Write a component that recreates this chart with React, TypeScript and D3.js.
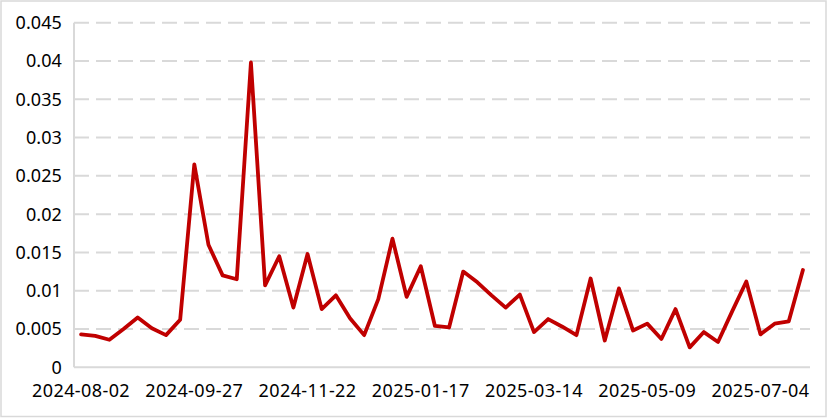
import React from "react";
import * as d3 from "d3";

const dates: string[] = [
  "2024-08-02","2024-08-09","2024-08-16","2024-08-23","2024-08-30","2024-09-06","2024-09-13","2024-09-20",
  "2024-09-27","2024-10-04","2024-10-11","2024-10-18","2024-10-25","2024-11-01","2024-11-08","2024-11-15",
  "2024-11-22","2024-11-29","2024-12-06","2024-12-13","2024-12-20","2024-12-27","2025-01-03","2025-01-10",
  "2025-01-17","2025-01-24","2025-01-31","2025-02-07","2025-02-14","2025-02-21","2025-02-28","2025-03-07",
  "2025-03-14","2025-03-21","2025-03-28","2025-04-04","2025-04-11","2025-04-18","2025-04-25","2025-05-02",
  "2025-05-09","2025-05-16","2025-05-23","2025-05-30","2025-06-06","2025-06-13","2025-06-20","2025-06-27",
  "2025-07-04","2025-07-11","2025-07-18","2025-07-25",
];

const values: number[] = [
  0.0043, 0.0041, 0.0036, 0.005, 0.0065, 0.0051, 0.0042, 0.0062, 0.0265, 0.016,
  0.012, 0.0115, 0.0398, 0.0107, 0.0145, 0.0078, 0.0148, 0.0076, 0.0094, 0.0064,
  0.0042, 0.0089, 0.0168, 0.0092, 0.0132, 0.0054, 0.0052, 0.0125, 0.0111, 0.0094,
  0.0078, 0.0095, 0.0046, 0.0063, 0.0053, 0.0042, 0.0116, 0.0035, 0.0103, 0.0048,
  0.0057, 0.0037, 0.0076, 0.0026, 0.0046, 0.0033, 0.0073, 0.0112, 0.0043, 0.0057,
  0.006, 0.0127,
];

const yTicks: number[] = [0, 0.005, 0.01, 0.015, 0.02, 0.025, 0.03, 0.035, 0.04, 0.045];
const yTickLabels: string[] = ["0", "0.005", "0.01", "0.015", "0.02", "0.025", "0.03", "0.035", "0.04", "0.045"];
const xTickLabels: string[] = ["2024-08-02", "2024-09-27", "2024-11-22", "2025-01-17", "2025-03-14", "2025-05-09", "2025-07-04"];

const W = 833;
const H = 418;
const left = 74;
const right = 810;
const top = 22.7;
const bottom = 367.3;
const FONT = "'Noto Sans', 'DejaVu Sans', sans-serif";

export default function App() {
  const x = d3.scalePoint<string>().domain(dates).range([left, right]).padding(0.5);
  const y = d3.scaleLinear().domain([0, 0.045]).range([bottom, top]);
  const line = d3
    .line<number>()
    .x((_, i) => x(dates[i]) as number)
    .y((d) => y(d));

  return (
    <svg
      width={W}
      height={H}
      style={{ position: "absolute", left: 0, top: 0, background: "#fff" }}
    >
      <rect x={1} y={1} width={825} height={415.5} fill="#fff" stroke="#D9D9D9" strokeWidth={1.5} />
      {yTicks.slice(1).map((t) => (
        <line
          key={t}
          x1={left}
          x2={right}
          y1={y(t)}
          y2={y(t)}
          stroke="#D9D9D9"
          strokeWidth={2}
          strokeDasharray="15 7"
        />
      ))}
      <line x1={left} x2={left} y1={top} y2={bottom} stroke="#D9D9D9" strokeWidth={2} />
      <line x1={left} x2={right} y1={bottom} y2={bottom} stroke="#D9D9D9" strokeWidth={2} />
      {yTicks.map((t, i) => (
        <text
          key={t}
          x={62}
          y={y(t)}
          dy="0.36em"
          textAnchor="end"
          fontFamily={FONT}
          fontSize={18}
          letterSpacing={0.1}
          fill="#000"
        >
          {yTickLabels[i]}
        </text>
      ))}
      {xTickLabels.map((lab) => (
        <text
          key={lab}
          x={x(lab) as number}
          y={396.5}
          textAnchor="middle"
          fontFamily={FONT}
          fontSize={18}
          letterSpacing={0.4}
          fill="#000"
        >
          {lab}
        </text>
      ))}
      <path
        d={line(values) || ""}
        fill="none"
        stroke="#C00000"
        strokeWidth={3.8}
        strokeLinejoin="round"
        strokeLinecap="round"
      />
    </svg>
  );
}
